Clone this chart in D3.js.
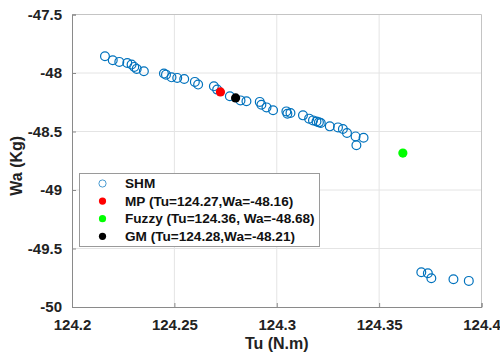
<!DOCTYPE html>
<html>
<head>
<meta charset="utf-8">
<script src="https://cdn.jsdelivr.net/npm/d3@7"></script>
<style>
  html, body { margin: 0; padding: 0; background: #fff; }
  svg { display: block; font-family: "Liberation Sans", Arial, sans-serif; }
</style>
</head>
<body>
<svg id="chart" width="500" height="353"></svg>
<script>
// SHM solutions (Tu in N.m, Wa in Kg)
const shmTu = [
  124.2161, 124.2199, 124.2231, 124.2270, 124.2291, 124.2304, 124.2316, 124.2351,
  124.2449, 124.2459, 124.2486, 124.2514, 124.2548, 124.2600, 124.2616, 124.2693,
  124.2709, 124.2771, 124.2823, 124.2852, 124.2917, 124.2925, 124.2950, 124.2982,
  124.3047, 124.3052, 124.3067, 124.3128, 124.3158, 124.3177, 124.3194, 124.3206,
  124.3215, 124.3259, 124.3299, 124.3323, 124.3343, 124.3385, 124.3424, 124.3389,
  124.3706, 124.3738, 124.3755, 124.3863, 124.3938
];
const shmWa = [
  -47.857, -47.891, -47.905, -47.914, -47.928, -47.948, -47.965, -47.985,
  -48.005, -48.014, -48.037, -48.042, -48.051, -48.076, -48.099, -48.114,
  -48.142, -48.199, -48.234, -48.242, -48.247, -48.271, -48.294, -48.319,
  -48.328, -48.348, -48.342, -48.362, -48.390, -48.405, -48.414, -48.422,
  -48.427, -48.456, -48.465, -48.479, -48.513, -48.542, -48.553, -48.617,
  -49.703, -49.711, -49.754, -49.763, -49.777
];

// Single optimum points from the other methods
const methodNames = ["MP", "Fuzzy", "GM"];
const methodTu = [124.2725, 124.3616, 124.2799];
const methodWa = [-48.162, -48.684, -48.213];
const methodSep = [",", ", ", ","];
const methodColors = ["#ff0000", "#00ff00", "#000000"];

const xTicks = [124.2, 124.25, 124.3, 124.35, 124.4];
const yTicks = [-47.5, -48, -48.5, -49, -49.5, -50];

const svg = d3.select("#chart");
const plotL = 72, plotR = 481.5, plotT = 14.5, plotB = 307;

const x = d3.scaleLinear().domain([124.2, 124.4]).range([plotL, plotR]);
const y = d3.scaleLinear().domain([-50, -47.5]).range([plotB, plotT]);

// grid
const grid = svg.append("g");
grid.selectAll("line.gx").data(xTicks.slice(1, -1)).join("line")
  .attr("x1", d => x(d)).attr("x2", d => x(d))
  .attr("y1", plotT).attr("y2", plotB)
  .attr("stroke", "#e4e4e4").attr("stroke-width", 1);
grid.selectAll("line.gy").data(yTicks.slice(1, -1)).join("line")
  .attr("x1", plotL).attr("x2", plotR)
  .attr("y1", d => y(d)).attr("y2", d => y(d))
  .attr("stroke", "#e4e4e4").attr("stroke-width", 1);

// box (top and right)
svg.append("path")
  .attr("d", `M${plotL},${plotT}H${plotR}V${plotB}`)
  .attr("fill", "none").attr("stroke", "#c4c4c4").attr("stroke-width", 1);

const fmt = d => String(d);

// x axis
const xAxis = svg.append("g").attr("transform", `translate(0,${plotB})`)
  .call(d3.axisBottom(x).tickValues(xTicks).tickFormat(fmt).tickSize(-4).tickPadding(12));
xAxis.select(".domain").attr("stroke", "#8a8a8a");
xAxis.selectAll(".tick line").attr("stroke", "#8a8a8a");
xAxis.selectAll("text").attr("font-size", 15).attr("font-weight", "bold").attr("fill", "#222")
  .attr("font-family", "Liberation Sans, Arial, sans-serif");

// y axis
const yAxis = svg.append("g").attr("transform", `translate(${plotL},0)`)
  .call(d3.axisLeft(y).tickValues(yTicks).tickFormat(fmt).tickSize(-4).tickPadding(10));
yAxis.select(".domain").attr("stroke", "#8a8a8a");
yAxis.selectAll(".tick line").attr("stroke", "#8a8a8a");
yAxis.selectAll("text").attr("font-size", 15).attr("font-weight", "bold").attr("fill", "#222")
  .attr("font-family", "Liberation Sans, Arial, sans-serif");

// axis titles
svg.append("text")
  .attr("x", (plotL + plotR) / 2).attr("y", 349)
  .attr("text-anchor", "middle")
  .attr("font-size", 16).attr("font-weight", "bold").attr("fill", "#222")
  .text("Tu (N.m)");
svg.append("text")
  .attr("transform", `translate(22,${(plotT + plotB) / 2 + 5}) rotate(-90)`)
  .attr("text-anchor", "middle")
  .attr("font-size", 16).attr("font-weight", "bold").attr("fill", "#222")
  .text("Wa (Kg)");

// SHM points
const shm = shmTu.map((t, i) => ({ tu: t, wa: shmWa[i] }));
svg.append("g").selectAll("circle").data(shm).join("circle")
  .attr("cx", d => x(d.tu)).attr("cy", d => y(d.wa)).attr("r", 4.4)
  .attr("fill", "none").attr("stroke", "#0072bd").attr("stroke-width", 1.2);

// method points
const methods = methodNames.map((n, i) => ({
  name: n, tu: methodTu[i], wa: methodWa[i], sep: methodSep[i], color: methodColors[i]
}));
svg.append("g").selectAll("circle").data(methods).join("circle")
  .attr("cx", d => x(d.tu)).attr("cy", d => y(d.wa)).attr("r", 4.6)
  .attr("fill", d => d.color);

// legend
const lg = svg.append("g");
lg.append("rect")
  .attr("x", 79.5).attr("y", 173.5).attr("width", 240).attr("height", 73)
  .attr("fill", "#fff").attr("stroke", "#9a9a9a").attr("stroke-width", 1);
const rows = [{ label: "SHM", hollow: true, color: "#0072bd" }].concat(
  methods.map(d => ({
    label: `${d.name} (Tu=${d.tu.toFixed(2)}${d.sep}Wa=${d.wa.toFixed(2)})`,
    hollow: false, color: d.color
  }))
);
const rowY = i => 183.5 + i * 17.6;
lg.selectAll("circle").data(rows).join("circle")
  .attr("cx", 102.5).attr("cy", (d, i) => rowY(i)).attr("r", d => d.hollow ? 3.6 : 3.6)
  .attr("fill", d => d.hollow ? "none" : d.color)
  .attr("stroke", d => d.hollow ? d.color : "none")
  .attr("stroke-width", 1)
  .attr("stroke-opacity", 0.7);
lg.selectAll("text").data(rows).join("text")
  .attr("x", 125).attr("y", (d, i) => rowY(i) + 4.6)
  .attr("font-size", 13.6).attr("font-weight", "bold").attr("fill", "#111")
  .text(d => d.label);
</script>
</body>
</html>
